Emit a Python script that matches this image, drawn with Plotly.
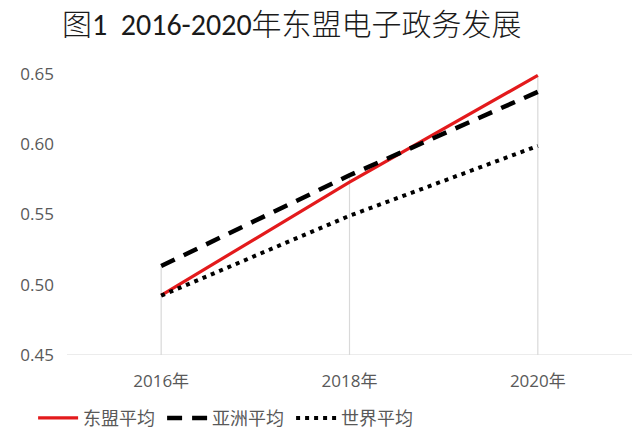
import plotly.graph_objects as go

categories = ["2016年", "2018年", "2020年"]
asean = [0.4925, 0.573, 0.649]
asia = [0.5133, 0.5779, 0.6373]
world = [0.4922, 0.5491, 0.5988]
y_ticks = [0.45, 0.50, 0.55, 0.60, 0.65]
y_min = 0.45

gray = "#595959"
tick_font = "'Open Sans', 'Noto Sans CJK SC', sans-serif"

fig = go.Figure()

# drop lines from axis to highest value in each category
drop_x, drop_y = [], []
for i, c in enumerate(categories):
    drop_x += [c, c, None]
    drop_y += [y_min, max(asean[i], asia[i], world[i]), None]
fig.add_trace(go.Scatter(x=drop_x, y=drop_y, mode="lines",
                         line=dict(color="#d9d9d9", width=1.2),
                         showlegend=False, hoverinfo="skip"))

fig.add_trace(go.Scatter(x=categories, y=asean, mode="lines", name="东盟平均",
                         line=dict(color="#e31a1c", width=3.2)))
fig.add_trace(go.Scatter(x=categories, y=asia, mode="lines", name="亚洲平均",
                         line=dict(color="#000000", width=4.5, dash="15px,10px")))
fig.add_trace(go.Scatter(x=categories, y=world, mode="lines", name="世界平均",
                         line=dict(color="#000000", width=4, dash="4px,5px")))

fig.update_layout(
    width=640, height=438,
    margin=dict(l=67, r=8, t=74, b=83, autoexpand=False),
    paper_bgcolor="white", plot_bgcolor="white",
    font=dict(family=tick_font, color=gray, size=17),
    title=dict(text="图1  2016-2020年东盟电子政务发展", x=62/640, xref="container",
               xanchor="left", y=1-24/438, yref="container", yanchor="middle",
               pad=dict(l=0, r=0, t=0, b=0),
               font=dict(size=30, color="#1a1a1a", weight=300,
                         family="Carlito, Calibri, 'Noto Sans CJK SC', sans-serif")),
    showlegend=True,
    legend=dict(orientation="h", x=-0.06, xanchor="left", y=-0.225, yanchor="middle",
                font=dict(size=18, color=gray, family="'Noto Sans CJK SC', sans-serif"),
                entrywidth=74, entrywidthmode="pixels", itemwidth=40,
                traceorder="normal"),
    xaxis=dict(type="category", categoryorder="array", categoryarray=categories,
               range=[-0.5, 2.5], showgrid=False, zeroline=False, showline=False,
               ticks="", ticklabelstandoff=14, tickfont=dict(size=17, color=gray)),
    yaxis=dict(range=[0.45, 0.65], tickvals=y_ticks,
               ticktext=[f"{v:.2f}" for v in y_ticks], showgrid=False,
               zeroline=False, showline=False, ticks="", ticklabelstandoff=12,
               tickfont=dict(size=17, color=gray)),
)

# baseline at the bottom of the value axis
fig.add_shape(type="line", xref="paper", yref="y", x0=0, x1=1, y0=y_min, y1=y_min,
              line=dict(color="#d9d9d9", width=1.2), layer="below")

fig.write_html("out.html", config={"displayModeBar": False},
               post_script="document.body.style.margin='0';")
